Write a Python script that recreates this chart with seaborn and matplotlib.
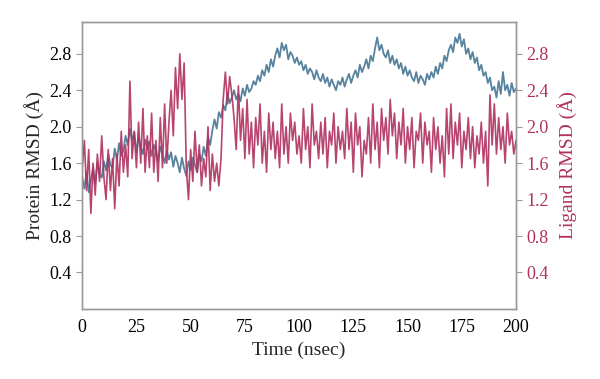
import numpy as np
import pandas as pd
import matplotlib
matplotlib.use("Agg")
import matplotlib.pyplot as plt
import seaborn as sns

time_ns = list(range(0, 201))

protein_rmsd = [
    1.45, 1.32, 1.50, 1.28, 1.42, 1.55, 1.38, 1.60, 1.48, 1.44,
    1.62, 1.52, 1.70, 1.58, 1.55, 1.76, 1.64, 1.82, 1.68, 1.74,
    1.90, 1.80, 1.98, 1.85, 1.94, 1.72, 1.88, 1.78, 1.70, 1.86,
    1.76, 1.84, 1.68, 1.80, 1.74, 1.62, 1.78, 1.70, 1.60, 1.74,
    1.64, 1.72, 1.56, 1.68, 1.60, 1.50, 1.66, 1.54, 1.46, 1.62,
    1.52, 1.66, 1.58, 1.50, 1.70, 1.62, 1.78, 1.68, 1.88, 1.80,
    1.96, 2.08, 1.98, 2.16, 2.10, 2.24, 2.18, 2.36, 2.26, 2.32,
    2.40, 2.30, 2.36, 2.28, 2.42, 2.34, 2.46, 2.38, 2.42, 2.50,
    2.46, 2.56, 2.50, 2.62, 2.56, 2.68, 2.60, 2.74, 2.66, 2.78,
    2.86, 2.76, 2.92, 2.84, 2.90, 2.74, 2.82, 2.78, 2.70, 2.76,
    2.68, 2.72, 2.62, 2.68, 2.58, 2.64, 2.60, 2.52, 2.62, 2.54,
    2.50, 2.58, 2.48, 2.54, 2.44, 2.52, 2.46, 2.40, 2.50, 2.46,
    2.54, 2.44, 2.52, 2.58, 2.48, 2.56, 2.62, 2.54, 2.68, 2.60,
    2.66, 2.74, 2.64, 2.78, 2.72, 2.86, 2.98, 2.84, 2.90, 2.80,
    2.76, 2.84, 2.70, 2.78, 2.68, 2.74, 2.64, 2.70, 2.58, 2.66,
    2.56, 2.62, 2.54, 2.50, 2.60, 2.48, 2.56, 2.52, 2.46, 2.58,
    2.52, 2.60, 2.54, 2.66, 2.58, 2.70, 2.64, 2.78, 2.72, 2.84,
    2.90, 2.82, 2.98, 2.92, 3.02, 2.88, 2.96, 2.80, 2.86, 2.74,
    2.82, 2.70, 2.76, 2.62, 2.68, 2.56, 2.60, 2.48, 2.54, 2.40,
    2.44, 2.32, 2.50, 2.36, 2.60, 2.40, 2.46, 2.34, 2.48, 2.38,
    2.42,
]

ligand_rmsd = [
    1.55, 1.85, 1.30, 1.75, 1.05, 1.60, 1.25, 1.70, 1.40, 1.90,
    1.45, 1.20, 1.75, 1.30, 1.65, 1.10, 1.70, 1.35, 1.95, 1.50,
    1.80, 1.45, 2.50, 1.65, 1.95, 1.55, 2.05, 1.60, 2.20, 1.50,
    1.90, 1.55, 2.15, 1.50, 1.85, 1.40, 2.10, 1.55, 2.25, 1.60,
    2.05, 2.40, 1.90, 2.65, 2.20, 2.80, 2.30, 2.70, 1.55, 1.20,
    1.75, 1.40, 1.95, 1.50, 1.80, 1.35, 1.65, 1.45, 2.00, 1.30,
    1.70, 1.40, 1.60, 1.35, 1.65, 2.30, 2.60, 2.25, 2.55, 2.35,
    2.10, 1.75, 2.45, 1.85, 2.20, 1.65, 2.30, 1.70, 2.05, 1.55,
    2.10, 1.80, 2.25, 1.60, 1.95, 1.50, 2.15, 1.75, 2.05, 1.65,
    1.95, 1.55, 2.25, 1.70, 2.00, 1.60, 2.15, 1.85, 2.05, 1.70,
    1.90, 1.60, 2.20, 1.75, 2.00, 1.55, 2.25, 1.80, 1.95, 1.65,
    2.05, 1.70, 2.10, 1.55, 1.95, 1.80, 2.15, 1.60, 2.00, 1.75,
    1.95, 1.65, 2.20, 1.75, 2.05, 1.50, 2.15, 1.80, 2.00, 1.45,
    1.85, 1.70, 2.10, 1.60, 2.25, 1.75, 2.05, 1.55, 2.20, 1.85,
    2.10, 1.70, 2.30, 1.90, 2.15, 1.65, 2.05, 1.80, 2.20, 1.60,
    2.00, 1.75, 2.10, 1.55, 1.95, 1.85, 2.15, 1.60, 2.05, 1.80,
    1.95, 1.50, 2.10, 1.75, 2.00, 1.60, 1.90, 1.45, 2.20, 1.70,
    2.25, 1.65, 2.05, 1.80, 2.15, 1.55, 1.95, 1.75, 2.10, 1.65,
    2.00, 1.55, 1.90, 1.70, 2.05, 1.60, 1.95, 1.35, 2.35, 1.80,
    2.25, 1.70, 2.10, 1.75, 2.00, 1.60, 2.15, 1.80, 1.95, 1.70,
    1.85,
]

x_ticks = [0, 25, 50, 75, 100, 125, 150, 175, 200]
y_ticks = [0.4, 0.8, 1.2, 1.6, 2.0, 2.4, 2.8]

blue = "#4e7c99"
red = "#b0315f"
spine_c = "#999999"

sns.set_style("white")
plt.rcParams["font.family"] = ["Liberation Serif", "DejaVu Serif"]

df = pd.DataFrame({"time": time_ns, "protein": protein_rmsd, "ligand": ligand_rmsd})

fig = plt.figure(figsize=(6.0, 3.79), dpi=100)
ax = fig.add_axes([0.137, 0.185, 0.723, 0.757])
ax2 = ax.twinx()

sns.lineplot(data=df, x="time", y="protein", ax=ax, color=blue, lw=1.3, alpha=0.95)
sns.lineplot(data=df, x="time", y="ligand", ax=ax2, color=red, lw=1.2, alpha=0.9)

for a in (ax, ax2):
    a.set_xlim(0, 200)
    a.set_ylim(0, 3.15)
    a.set_yticks(y_ticks)
    a.set_yticklabels([f"{v:.1f}" for v in y_ticks])
    for s in a.spines.values():
        s.set_color(spine_c)
        s.set_linewidth(1.0)

ax.set_xticks(x_ticks)
ax.tick_params(axis="both", direction="out", length=4, color=spine_c, labelsize=13, labelcolor="black")
ax2.tick_params(axis="y", direction="out", length=4, color=spine_c, labelsize=13, labelcolor=red)

ax.set_xlabel("Time (nsec)", fontsize=14)
ax.set_ylabel("Protein RMSD (Å)", fontsize=14)
ax2.set_ylabel("Ligand RMSD (Å)", fontsize=14, color=red, labelpad=6)

fig.savefig("out.png", dpi=100)
